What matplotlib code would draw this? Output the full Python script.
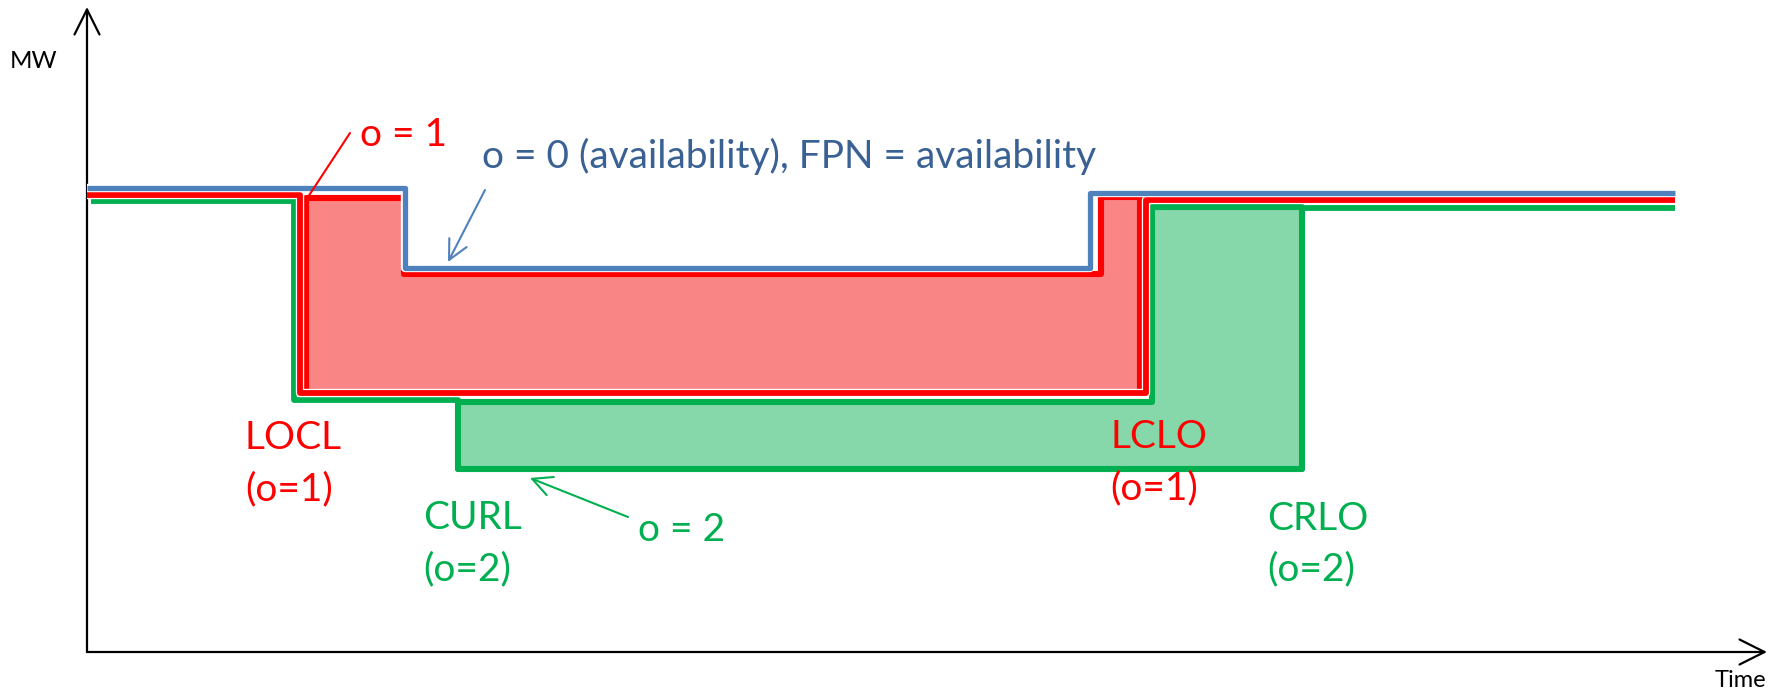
import matplotlib
matplotlib.use("Agg")
import matplotlib.pyplot as plt
import matplotlib.patheffects as pe

plt.rcParams["font.family"] = ["Lato", "DejaVu Sans"]

BLUE = "#4F81BD"
BLUE_TEXT = "#3A6194"
RED = "#FF0000"
GREEN = "#00B050"

# step profiles (time, MW)
avail_t = [0, 318, 1003, 1588]
avail_mw = [464, 384, 459, 459]

o1_t = [0, 213, 1059, 1588]
o1_mw = [457, 259, 452, 452]

o2_t = [4, 207, 371, 1215, 1588]
o2_mw = [451, 252, 183, 444, 444]

# shaded regions
red_t = [219, 317, 1014, 1053]
red_top = [454, 378, 455, 455]
red_bottom = 259

green_t = [371, 1065, 1215]
green_top = [250, 445, 445]
green_bottom = 183

fig = plt.figure(figsize=(17.78, 6.92), dpi=100)
ax = fig.add_axes([0, 0, 1, 1])
ax.set_xlim(-87, 1691)
ax.set_ylim(-40, 652)
ax.axis("off")

# axes arrows
arrow_kw = dict(arrowstyle="->,head_length=0.9,head_width=0.45", lw=1.6, color="black",
                mutation_scale=20, shrinkA=0, shrinkB=0)
ax.annotate("", xy=(0, 645), xytext=(0, 0), arrowprops=arrow_kw)
ax.annotate("", xy=(1680, 0), xytext=(0, 0), arrowprops=arrow_kw)
ax.text(-77, 584, "MW", fontsize=17.5, va="baseline", ha="left")
ax.text(1628, -35, "Time", fontsize=17, va="baseline", ha="left")

halo = [pe.Stroke(linewidth=6, foreground="white"), pe.Normal()]

# green region + o=2 line
ax.fill_between(green_t, green_bottom, green_top, step="post",
                facecolor="#86D8AA", edgecolor=GREEN, linewidth=4.4, zorder=2)
ax.plot(o2_t, o2_mw, drawstyle="steps-post", color=GREEN, lw=4.2, zorder=3,
        solid_capstyle="butt")

# red region + o=1 line
ax.fill_between(red_t, red_bottom, red_top, step="post",
                facecolor="#F98585", edgecolor=RED, linewidth=4.4, zorder=4)
ax.plot(o1_t, o1_mw, drawstyle="steps-post", color=RED, lw=4.2, zorder=5,
        solid_capstyle="butt", path_effects=halo)

# availability line
ax.plot(avail_t, avail_mw, drawstyle="steps-post", color=BLUE, lw=3.8, zorder=6,
        solid_capstyle="butt", path_effects=halo)

# labels
fs = 28
ax.text(273, 506, "o = 1", color=RED, fontsize=fs, va="baseline")
ax.text(395, 484, "o = 0 (availability), FPN = availability", color=BLUE_TEXT,
        fontsize=fs, va="baseline")
ax.text(158, 203, "LOCL", color=RED, fontsize=fs, va="baseline")
ax.text(158, 152, "(o=1)", color=RED, fontsize=fs, va="baseline")
ax.text(1023, 204, "LCLO", color=RED, fontsize=fs, va="baseline", zorder=7)
ax.text(1023, 153, "(o=1)", color=RED, fontsize=fs, va="baseline", zorder=7)
ax.text(336, 123, "CURL", color=GREEN, fontsize=fs, va="baseline")
ax.text(336, 72, "(o=2)", color=GREEN, fontsize=fs, va="baseline")
ax.text(1180, 122, "CRLO", color=GREEN, fontsize=fs, va="baseline")
ax.text(1180, 72, "(o=2)", color=GREEN, fontsize=fs, va="baseline")
ax.text(551, 111, "o = 2", color=GREEN, fontsize=fs, va="baseline")

# pointer arrows
ax.annotate("", xy=(221, 455), xytext=(263, 519),
            arrowprops=dict(arrowstyle="-", color=RED, lw=1.5, shrinkA=0, shrinkB=0), zorder=8)
ax.annotate("", xy=(361, 390), xytext=(398, 462),
            arrowprops=dict(arrowstyle="->,head_length=0.7,head_width=0.35", color=BLUE,
                            lw=1.5, mutation_scale=20, shrinkA=0, shrinkB=0))
ax.annotate("", xy=(443, 174), xytext=(541, 135),
            arrowprops=dict(arrowstyle="->,head_length=0.7,head_width=0.35", color=GREEN,
                            lw=1.5, mutation_scale=20, shrinkA=0, shrinkB=0))

fig.savefig("out.png", dpi=100)
